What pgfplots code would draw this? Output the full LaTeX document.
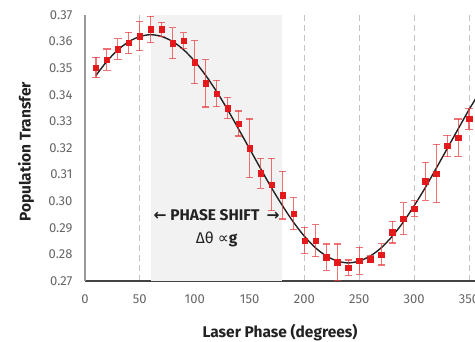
\documentclass[border=0pt]{standalone}
\usepackage{pgfplots}
\usepackage{pgfplotstable}
\pgfplotsset{compat=1.18}
\usepackage{fontspec}
\setmainfont{Fira Sans}
\newfontfamily\dejavu{DejaVu Sans}
\definecolor{ptred}{HTML}{E3191C}
\definecolor{errred}{HTML}{E8383B}
\definecolor{bandc}{HTML}{F2F2F2}
\definecolor{gridc}{HTML}{C4C4C4}
\definecolor{tickc}{HTML}{666666}
\definecolor{labc}{HTML}{222222}

\pgfplotstableread{
x y e
10 0.3503 0.0038
20 0.3532 0.0040
30 0.3572 0.0038
40 0.3595 0.0040
50 0.3621 0.0055
60 0.3646 0.0050
70 0.3646 0.0027
80 0.3594 0.0058
90 0.3603 0.0030
100 0.3522 0.0081
110 0.3443 0.0089
120 0.3405 0.0049
130 0.3350 0.0040
140 0.3292 0.0047
150 0.3199 0.0110
160 0.3105 0.0057
170 0.3063 0.0098
180 0.3023 0.0090
190 0.2953 0.0060
200 0.2852 0.0050
210 0.2852 0.0060
220 0.2790 0.0049
230 0.2771 0.0068
240 0.2749 0.0030
250 0.2776 0.0051
260 0.2782 0.0012
270 0.2800 0.0040
280 0.2884 0.0041
290 0.2934 0.0060
300 0.2972 0.0029
310 0.3075 0.0071
320 0.3104 0.0110
330 0.3208 0.0040
340 0.3239 0.0070
350 0.3310 0.0040
}\data

\pgfplotstableread{
x y
10 0.3473
20 0.3526
30 0.3569
40 0.3600
50 0.3619
60 0.3626
70 0.3619
80 0.3600
90 0.3569
100 0.3526
110 0.3473
120 0.3412
130 0.3344
140 0.3271
150 0.3197
160 0.3123
170 0.3050
180 0.2983
190 0.2921
200 0.2868
210 0.2825
220 0.2794
230 0.2775
240 0.2768
250 0.2775
260 0.2794
270 0.2825
280 0.2868
290 0.2921
300 0.2983
310 0.3050
320 0.3123
330 0.3197
340 0.3271
350 0.3344
360 0.3412
}\fit

\begin{document}
\begin{tikzpicture}
\begin{axis}[
  set layers,
  scale only axis, width=395pt, height=266pt,
  xmin=0, xmax=360, ymin=0.27, ymax=0.37,
  axis x line*=bottom, axis y line*=left,
  x axis line style={draw=labc!85, line width=1.1pt},
  y axis line style={draw=gray!80, line width=1.6pt},
  xtick={0,50,100,150,200,250,300,350},
  ytick={0.27,0.28,0.29,0.30,0.31,0.32,0.33,0.34,0.35,0.36,0.37},
  yticklabel style={/pgf/number format/fixed, /pgf/number format/fixed zerofill, /pgf/number format/precision=2, anchor=east, xshift=-9pt},
  xticklabel style={yshift=-10pt},
  /pgf/number format/assume math mode=true,
  ticklabel style={font=\fontsize{13}{15}\selectfont, text=tickc},
  major tick length=0pt,
  xmajorgrids,
  grid style={draw=gridc, line width=1pt, dash pattern=on 6pt off 4pt},
  clip=false,
]
\fill[bandc, on layer=axis background] (axis cs:60,0.27) rectangle (axis cs:180,0.37);
\addplot[draw=labc, line width=1.4pt, smooth, no marks] table[x=x,y=y] {\fit};
\addplot[only marks, mark=square*, mark size=2.7pt, mark options={fill=ptred, draw=ptred},
  error bars/.cd, y dir=both, y explicit,
  error bar style={draw=errred, line width=1.1pt, opacity=0.7},
  error mark options={rotate=90, mark size=3.6pt, draw=errred, line width=1.1pt}]
  table[x=x, y=y, y error=e] {\data};
\node[font=\bfseries\fontsize{15.5}{17}\selectfont, text=labc] at (axis cs:120,0.2948) {{\dejavu ←}\ PHASE SHIFT\ \ {\dejavu →}};
\node[font=\fontsize{15.5}{17}\selectfont, text=labc] at (axis cs:120,0.2858) {Δθ {\dejavu ∝}\textbf{g}};
\coordinate (O) at (rel axis cs:0,0);
\end{axis}
\node[rotate=90, font=\bfseries\fontsize{15.5}{17}\selectfont, text=labc] at ([xshift=-59pt,yshift=129pt]O) {Population Transfer};
\node[font=\bfseries\fontsize{15.5}{17}\selectfont, text=labc] at ([xshift=195pt,yshift=-52pt]O) {Laser Phase (degrees)};
\pgfresetboundingbox
\path[use as bounding box] ([xshift=-85pt,yshift=-60pt]O) rectangle ([xshift=390pt,yshift=281pt]O);
\end{tikzpicture}
\end{document}
